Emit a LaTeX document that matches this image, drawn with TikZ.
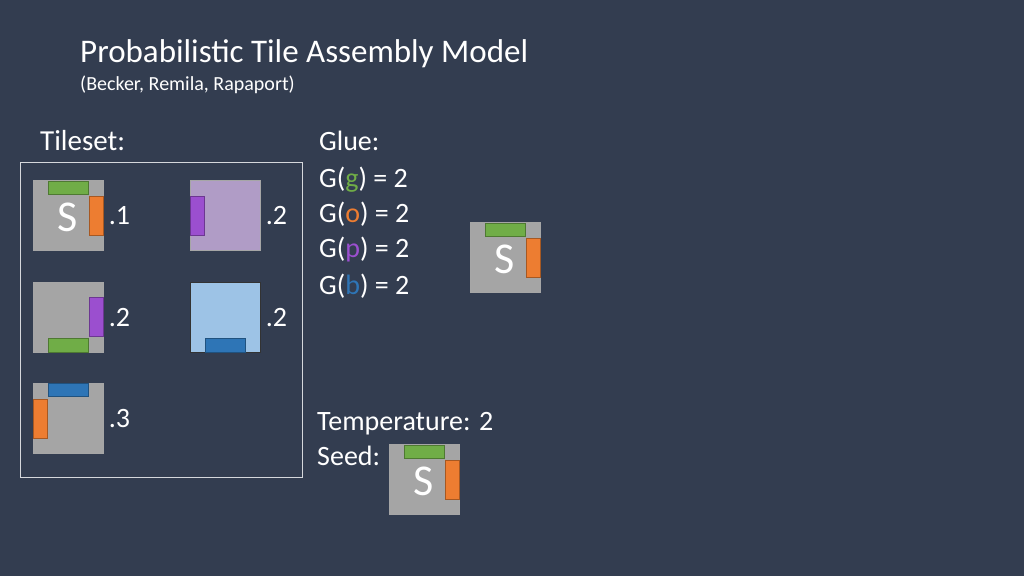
\documentclass[tikz,border=0pt]{standalone}
\usepackage{fontspec}
\setmainfont{Carlito}
\usetikzlibrary{positioning}
\definecolor{bg}{HTML}{333D50}
\definecolor{tilegray}{HTML}{A5A5A5}
\definecolor{gg}{HTML}{70AD47}
\definecolor{go}{HTML}{ED7D31}
\definecolor{gp}{HTML}{9B4FCF}
\definecolor{gb}{HTML}{2E75B6}
\definecolor{lpurple}{HTML}{B09CC6}
\definecolor{lblue}{HTML}{9DC3E6}
\newcommand{\GlueH}[3]{\fill[#1, draw=#1!70!black] (#2) rectangle ++(40,#3);}
\newcommand{\GlueV}[3]{\fill[#1, draw=#1!70!black] (#2) rectangle ++(#3,39);}

\begin{document}
\begin{tikzpicture}[x=1pt,y=-1pt]
  \tikzstyle{tile}=[rectangle, fill=tilegray, draw=gray!70, minimum size=70pt, inner sep=0pt, anchor=north west]
  \tikzstyle{txt}=[text=white, anchor=base west, inner sep=0pt]
  \tikzstyle{prob}=[text=white, font=\fontsize{28}{28}\selectfont, right=2pt]
  \fill [bg] (0,0) rectangle (1024,576);
  % title
  \node (title) [txt, font=\fontsize{33}{33}\selectfont] at (80,62) {Probabilistic Tile Assembly Model};
  \node (sub) [txt, font=\fontsize{20}{20}\selectfont] at (80,90) {(Becker, Remila, Rapaport)};
  \node (tileset) [txt, font=\fontsize{29}{29}\selectfont] at (40,150) {Tileset:};
  \draw [white!80!bg, thick] (20,162) rectangle (302,477);
  % tileset
  \node (t1) [tile] at (33,180) {};
  \GlueH{gg}{48,181}{13} \GlueV{go}{89,196}{14}
  \node [text=white, font=\fontsize{44}{44}\selectfont] at (68,217) {S};
  \node [prob] at (t1.east) {.1};
  \node (t2) [tile, fill=lpurple] at (190,180) {};
  \GlueV{gp}{190,196}{14}
  \node [prob] at (t2.east) {.2};
  \node (t3) [tile] at (33,282) {};
  \GlueV{gp}{89,297}{14} \GlueH{gg}{48,338}{14}
  \node [prob] at (t3.east) {.2};
  \node (t4) [tile, fill=lblue, draw=black!80] at (190,282) {};
  \GlueH{gb}{205,338}{14}
  \node [prob] at (t4.east) {.2};
  \node (t5) [tile] at (33,383) {};
  \GlueH{gb}{48,383}{13} \GlueV{go}{33,399}{14}
  \node [prob] at (t5.east) {.3};
  % glue
  \begin{scope}[font=\fontsize{28}{28}\selectfont]
    \node (glue) [txt] at (319,150) {Glue:};
    \node (gg) [txt] at (319,187) {G(\textcolor{gg}{g}) = 2};
    \node (go) [txt] at (319,222) {G(\textcolor{go}{o}) = 2};
    \node (gp) [txt] at (319,257) {G(\textcolor{gp}{p}) = 2};
    \node (gb) [txt] at (319,294) {G(\textcolor{gb}{b}) = 2};
    \node (temp) [txt] at (317,430) {Temperature: 2};
    \node (seed) [txt] at (317,465) {Seed:};
  \end{scope}
  % placed tiles
  \foreach \x/\y/\n in {470/222/a, 389/444/s} {
    \node (p\n) [tile] at (\x,\y) {};
    \GlueH{gg}{\x+15,\y+1}{13} \GlueV{go}{\x+56,\y+16}{14}
    \node [text=white, font=\fontsize{44}{44}\selectfont] at (\x+35,\y+37) {S};
  }
\end{tikzpicture}
\end{document}
